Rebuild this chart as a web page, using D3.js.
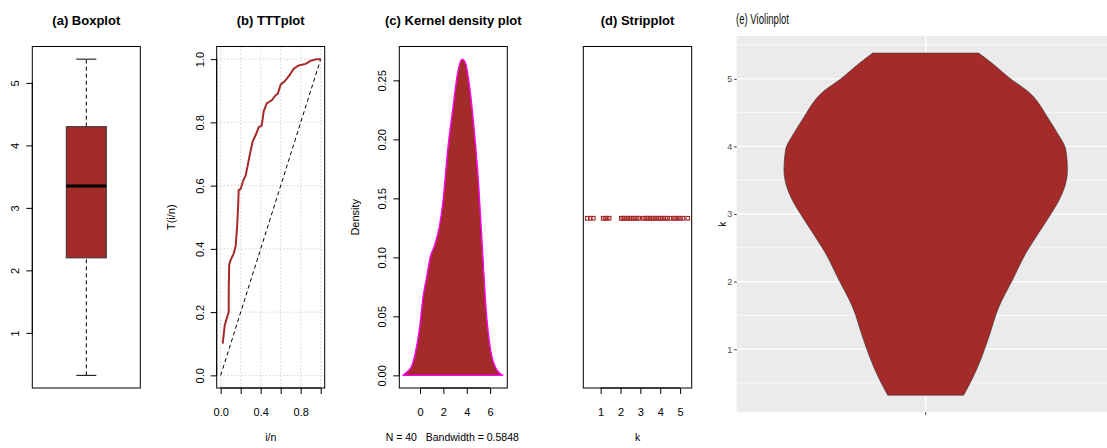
<!DOCTYPE html>
<html>
<head>
<meta charset="utf-8">
<script src="https://cdn.jsdelivr.net/npm/d3@7"></script>
<style>
body { margin: 0; background: #fff; }
svg { display: block; font-family: "Liberation Sans", Arial, sans-serif; }
</style>
</head>
<body>
<svg id="chart" width="1107" height="448"></svg>
<script>
// ---- data ----
const titles = ['(a) Boxplot', '(b) TTTplot', '(c) Kernel density plot', '(d) Stripplot', '(e) Violinplot'];

// boxplot: min, q1, median, q3, max
const boxStats = [0.32, 2.2, 3.35, 4.3, 5.38];
const boxTicks = [1, 2, 3, 4, 5];

// TTT plot
const tttX = [0.02, 0.04, 0.06, 0.08, 0.08, 0.085, 0.1, 0.13, 0.15, 0.165, 0.175, 0.18, 0.2, 0.225, 0.25, 0.27, 0.29, 0.32, 0.35, 0.38, 0.41, 0.43, 0.46, 0.51, 0.55, 0.57, 0.6, 0.64, 0.69, 0.73, 0.78, 0.85, 0.9, 0.96, 1.0];
const tttY = [0.10, 0.158, 0.18, 0.2, 0.27, 0.35, 0.365, 0.385, 0.41, 0.476, 0.54, 0.586, 0.59, 0.616, 0.632, 0.664, 0.696, 0.74, 0.76, 0.785, 0.79, 0.835, 0.86, 0.87, 0.886, 0.89, 0.92, 0.93, 0.95, 0.97, 0.98, 0.985, 0.995, 1.0, 1.0];
const tttTicks = [0, 0.2, 0.4, 0.6, 0.8, 1.0];

// kernel density
const densX = [-1.43, -1.38, -0.75, -0.38, -0.04, 0.24, 0.59, 0.87, 1.24, 1.67, 1.96, 2.38, 2.81, 3.23, 3.6, 3.89, 4.23, 4.65, 5.02, 5.36, 5.7, 6.07, 6.5, 7.0, 7.13];
const densY = [0.0, 0.0006, 0.007, 0.02, 0.04, 0.065, 0.0845, 0.1, 0.11, 0.127, 0.147, 0.192, 0.226, 0.257, 0.268, 0.265, 0.246, 0.207, 0.162, 0.105, 0.051, 0.02, 0.006, 0.0006, 0.0];
const densYTicks = [0, 0.05, 0.10, 0.15, 0.20, 0.25];
const densXTicks = [0, 2, 4, 6];

// strip plot values of k
const stripK = [0.33, 0.48, 0.63, 1.13, 1.22, 1.32, 1.43,
  2.04, 2.12, 2.2, 2.3, 2.38, 2.47, 2.55, 2.64, 2.73, 2.83, 2.92,
  3.15, 3.23, 3.32, 3.4, 3.48, 3.57, 3.65, 3.74, 3.82, 3.91, 4.0, 4.09, 4.18, 4.27, 4.36,
  4.54, 4.66, 4.78, 4.9, 5.02, 5.14, 5.38];

// violin density along k
const violinK = [0.32, 0.545, 0.89, 1.18, 1.63, 2.02, 2.43, 2.73, 3.0, 3.2, 3.5, 3.65, 3.95, 4.2, 4.39, 4.84, 4.98, 5.23, 5.38];
const violinDens = [0.071, 0.086, 0.105, 0.118, 0.137, 0.162, 0.188, 0.212, 0.234, 0.249, 0.263, 0.265, 0.262, 0.246, 0.231, 0.187, 0.162, 0.124, 0.099];

const brown = '#A52A2A';
const svg = d3.select('#chart');
let frameTop = 46.5, frameBottom = 388;

// R-style range padding of 4%
function pad(lo, hi) {
    let e = (hi - lo) * 0.04;
    return [lo - e, hi + e];
}

function frame(x0, x1, title) {
    svg.append('rect')
        .attr('x', x0).attr('y', frameTop)
        .attr('width', x1 - x0).attr('height', frameBottom - frameTop)
        .attr('fill', 'none').attr('stroke', '#000').attr('stroke-width', 1);
    svg.append('text')
        .attr('x', (x0 + x1) / 2).attr('y', 24.5)
        .attr('text-anchor', 'middle')
        .attr('font-weight', 'bold').attr('font-size', '13px')
        .text(title);
}

// left axis in R style: rotated labels
function leftAxis(x0, y, ticks, fmt) {
    let g = svg.append('g')
        .attr('transform', 'translate(' + x0 + ',0)')
        .call(d3.axisLeft(y).tickValues(ticks).tickSize(6).tickPadding(0).tickFormat(fmt).tickSizeOuter(0));
    g.select('.domain').attr('d', 'M0,' + y(ticks[0]) + 'V' + y(ticks[ticks.length - 1]));
    g.selectAll('text')
        .attr('transform', 'rotate(-90)')
        .attr('x', 0).attr('y', -13).attr('dy', 0)
        .attr('text-anchor', 'middle')
        .attr('font-size', '11px').attr('fill', '#000');
    return g;
}

function bottomAxis(x, ticks, labels, fmt) {
    let g = svg.append('g')
        .attr('transform', 'translate(0,' + frameBottom + ')')
        .call(d3.axisBottom(x).tickValues(ticks).tickSize(6).tickFormat(fmt).tickSizeOuter(0));
    g.select('.domain').attr('d', 'M' + x(ticks[0]) + ',0H' + x(ticks[ticks.length - 1]));
    g.selectAll('text')
        .attr('y', 28).attr('dy', 0)
        .attr('font-size', '11px').attr('fill', '#000')
        .text(d => labels.includes(d) ? fmt(d) : '');
    return g;
}

function yTitle(x, text) {
    svg.append('text')
        .attr('transform', 'translate(' + x + ',' + (frameTop + frameBottom) / 2 + ') rotate(-90)')
        .attr('text-anchor', 'middle').attr('font-size', '11px')
        .text(text);
}

function xTitle(x, text) {
    svg.append('text')
        .attr('x', x).attr('y', 441)
        .attr('text-anchor', 'middle').attr('font-size', '10.5px')
        .style('white-space', 'pre')
        .text(text);
}

// ---------- (a) Boxplot ----------
{
    let x0 = 32.3, x1 = 140.3;
    let y = d3.scaleLinear().domain(pad(boxStats[0], boxStats[4])).range([frameBottom, frameTop]);
    let x = d3.scaleLinear().domain(pad(0.5, 1.5)).range([x0, x1]);
    let g = svg.append('g');
    // whiskers
    g.append('line').attr('x1', x(1)).attr('x2', x(1)).attr('y1', y(boxStats[0])).attr('y2', y(boxStats[1]))
        .attr('stroke', '#000').attr('stroke-dasharray', '4,3');
    g.append('line').attr('x1', x(1)).attr('x2', x(1)).attr('y1', y(boxStats[3])).attr('y2', y(boxStats[4]))
        .attr('stroke', '#000').attr('stroke-dasharray', '4,3');
    [boxStats[0], boxStats[4]].forEach(v => {
        g.append('line').attr('x1', x(0.9)).attr('x2', x(1.1)).attr('y1', y(v)).attr('y2', y(v))
            .attr('stroke', '#000');
    });
    g.append('rect')
        .attr('x', x(0.8)).attr('width', x(1.2) - x(0.8))
        .attr('y', y(boxStats[3])).attr('height', y(boxStats[1]) - y(boxStats[3]))
        .attr('fill', brown).attr('stroke', '#333').attr('stroke-width', 1);
    g.append('line').attr('x1', x(0.8)).attr('x2', x(1.2)).attr('y1', y(boxStats[2])).attr('y2', y(boxStats[2]))
        .attr('stroke', '#000').attr('stroke-width', 3);
    frame(x0, x1, titles[0]);
    leftAxis(x0, y, boxTicks, d3.format('d'));
}

// ---------- (b) TTT plot ----------
{
    let x0 = 216.7, x1 = 324.7;
    let x = d3.scaleLinear().domain(pad(0, 1)).range([x0, x1]);
    let y = d3.scaleLinear().domain(pad(0, 1)).range([frameBottom, frameTop]);
    let grid = svg.append('g').attr('stroke', '#d3d3d3').attr('stroke-dasharray', '1.5,2');
    tttTicks.forEach(t => {
        grid.append('line').attr('x1', x(t)).attr('x2', x(t)).attr('y1', frameTop).attr('y2', frameBottom);
        grid.append('line').attr('x1', x0).attr('x2', x1).attr('y1', y(t)).attr('y2', y(t));
    });
    svg.append('line')
        .attr('x1', x(0)).attr('y1', y(0)).attr('x2', x(1)).attr('y2', y(1))
        .attr('stroke', '#000').attr('stroke-dasharray', '4,3');
    let line = d3.line().x((d, i) => x(tttX[i])).y(d => y(d));
    svg.append('path')
        .attr('d', line(tttY))
        .attr('fill', 'none').attr('stroke', brown).attr('stroke-width', 2);
    frame(x0, x1, titles[1]);
    leftAxis(x0, y, tttTicks, d3.format('.1f'));
    bottomAxis(x, tttTicks, [0, 0.4, 0.8], d3.format('.1f'));
    yTitle(174.5, 'T(i/n)');
    xTitle((x0 + x1) / 2, 'i/n');
}

// ---------- (c) Kernel density ----------
{
    let x0 = 399.3, x1 = 507.3;
    let x = d3.scaleLinear().domain(pad(densX[0], densX[densX.length - 1])).range([x0, x1]);
    let y = d3.scaleLinear().domain(pad(0, d3.max(densY))).range([frameBottom, frameTop]);
    let pts = densX.map((d, i) => [d, densY[i]]);
    let area = d3.area().x(d => x(d[0])).y0(y(0)).y1(d => y(d[1])).curve(d3.curveMonotoneX);
    svg.append('path')
        .attr('d', area(pts))
        .attr('fill', brown).attr('stroke', '#ff00ff').attr('stroke-width', 1.3);
    frame(x0, x1, titles[2]);
    leftAxis(x0, y, densYTicks, d3.format('.2f'));
    bottomAxis(x, densXTicks, densXTicks, d3.format('d'));
    yTitle(359.3, 'Density');
    xTitle((x0 + x1) / 2 - 1, 'N = 40   Bandwidth = 0.5848');
}

// ---------- (d) Stripplot ----------
{
    let x0 = 583.3, x1 = 691.7;
    let x = d3.scaleLinear().domain(pad(d3.min(stripK), d3.max(stripK))).range([x0, x1]);
    let cy = (frameTop + frameBottom) / 2 + 1;
    svg.append('g').selectAll('rect')
        .data(stripK)
        .join('rect')
        .attr('x', d => x(d) - 1.8).attr('y', cy - 1.8)
        .attr('width', 3.6).attr('height', 3.6)
        .attr('fill', 'none').attr('stroke', brown).attr('stroke-width', 1.1);
    frame(x0, x1, titles[3]);
    bottomAxis(x, boxTicks, boxTicks, d3.format('d'));
    xTitle((x0 + x1) / 2, 'k');
}

// ---------- (e) Violinplot (ggplot style) ----------
{
    let px0 = 736.7, px1 = 1114.7, ptop = 36, pbot = 412.3;
    let y = d3.scaleLinear().domain([0.067, 5.633]).range([pbot, ptop]);
    let xc = d3.scaleLinear().domain([0.4, 1.6]).range([px0, px1]);
    let w = d3.scaleLinear().domain([0, d3.max(violinDens)]).range([0, xc(1.45) - xc(1)]);
    svg.append('rect')
        .attr('x', px0).attr('y', ptop).attr('width', px1 - px0).attr('height', pbot - ptop)
        .attr('fill', '#EBEBEB');
    let grid = svg.append('g').attr('stroke', '#fff');
    [0.5, 1.5, 2.5, 3.5, 4.5, 5.5].forEach(t => {
        grid.append('line').attr('x1', px0).attr('x2', px1).attr('y1', y(t)).attr('y2', y(t)).attr('stroke-width', 0.7);
    });
    [1, 2, 3, 4, 5].forEach(t => {
        grid.append('line').attr('x1', px0).attr('x2', px1).attr('y1', y(t)).attr('y2', y(t)).attr('stroke-width', 1.3);
    });
    grid.append('line').attr('x1', xc(1)).attr('x2', xc(1)).attr('y1', ptop).attr('y2', pbot).attr('stroke-width', 1.3);

    let pts = violinK.map((k, i) => [k, violinDens[i]]);
    let area = d3.area()
        .y(d => y(d[0]))
        .x0(d => xc(1) - w(d[1]))
        .x1(d => xc(1) + w(d[1]))
        .curve(d3.curveMonotoneY);
    svg.append('path')
        .attr('d', area(pts))
        .attr('fill', brown).attr('stroke', '#333').attr('stroke-width', 0.6);

    // axes
    let ya = svg.append('g').attr('transform', 'translate(' + px0 + ',0)')
        .call(d3.axisLeft(y).tickValues([1, 2, 3, 4, 5]).tickSize(2.5).tickPadding(2).tickFormat(d3.format('d')));
    ya.select('.domain').remove();
    ya.selectAll('line').attr('stroke', '#333');
    ya.selectAll('text')
        .attr('font-family', '"Liberation Sans Narrow", "Liberation Sans", sans-serif')
        .attr('font-size', '9px').attr('fill', '#4D4D4D');
    svg.append('line').attr('x1', xc(1)).attr('x2', xc(1)).attr('y1', pbot).attr('y2', pbot + 2.5)
        .attr('stroke', '#333');
    svg.append('text')
        .attr('transform', 'translate(726,' + (ptop + pbot) / 2 + ') rotate(-90)')
        .attr('text-anchor', 'middle').attr('font-size', '10px')
        .text('k');
    svg.append('text')
        .attr('x', 736).attr('y', 23.5)
        .attr('font-size', '15px').attr('fill', '#111')
        .attr('textLength', 53).attr('lengthAdjust', 'spacingAndGlyphs')
        .text(titles[4]);
}
</script>
</body>
</html>
